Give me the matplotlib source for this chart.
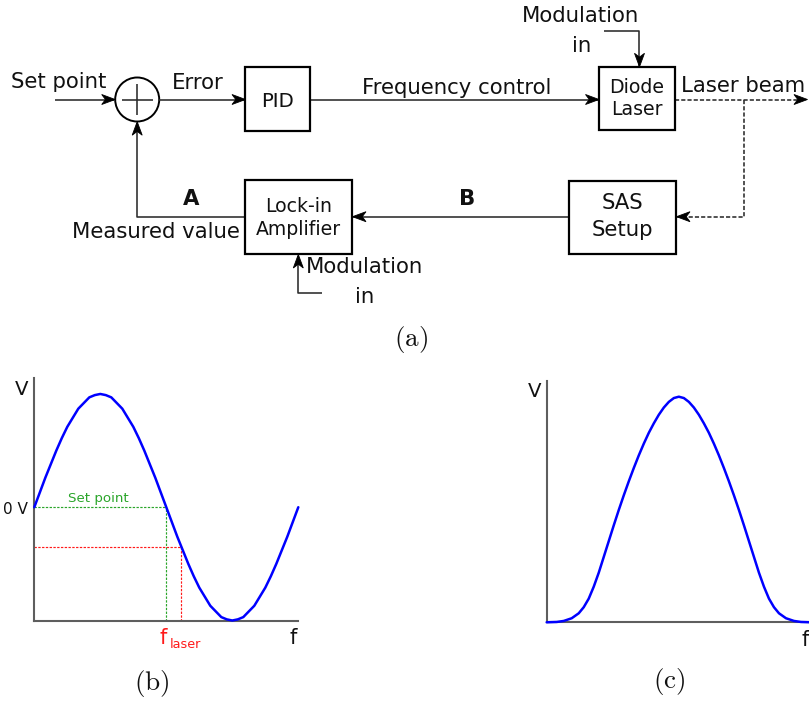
import matplotlib
matplotlib.use("Agg")
import matplotlib.pyplot as plt
from matplotlib.patches import Rectangle, Circle, Polygon

plt.rcParams["font.family"] = ["DejaVu Sans"]
plt.rcParams["mathtext.fontset"] = "cm"

W, H, DPI = 809, 702, 100

# ---------------- data ----------------
# (b) lock-in error signal versus laser detuning (arbitrary units)
detuning_b = list(range(49))
error_signal = [0.00, 0.13, 0.26, 0.38, 0.50, 0.61, 0.71, 0.79, 0.87, 0.92,
                0.97, 0.99, 1.00, 0.99, 0.97, 0.92, 0.87, 0.79, 0.71, 0.61,
                0.50, 0.38, 0.26, 0.13, 0.00, -0.13, -0.26, -0.38, -0.50,
                -0.61, -0.71, -0.79, -0.87, -0.92, -0.97, -0.99, -1.00,
                -0.99, -0.97, -0.92, -0.87, -0.79, -0.71, -0.61, -0.50,
                -0.38, -0.26, -0.13, 0.00]
setpoint_level = 0.0
measured_level = -0.35
f_setpoint = 24.0
f_laser = 26.7

# (c) saturated-absorption line profile versus detuning (arbitrary units)
detuning_c = [0, 10, 17, 25, 32, 37, 42, 47, 52, 57, 62, 67, 72, 77, 82, 87,
              92, 97, 102, 107, 112, 117, 122, 127, 132, 137, 142, 147, 152,
              157, 162, 167, 172, 177, 182, 187, 192, 197, 202, 207, 212,
              217, 222, 227, 232, 239, 247, 254, 264]
sas_signal = [0.0, 0.0015, 0.006, 0.018, 0.04, 0.067, 0.105, 0.158, 0.22,
              0.29, 0.36, 0.43, 0.498, 0.563, 0.625, 0.684, 0.74, 0.792,
              0.84, 0.882, 0.92, 0.952, 0.977, 0.994, 1.0, 0.994, 0.977,
              0.952, 0.92, 0.882, 0.84, 0.792, 0.74, 0.684, 0.625, 0.563,
              0.498, 0.43, 0.36, 0.29, 0.22, 0.158, 0.105, 0.067, 0.04,
              0.018, 0.006, 0.0015, 0.0]

# ---------------- styles ----------------
LINE = "#2b2b2b"
TXT = "#111111"
BLUE = "#0000ff"
GREEN = "#2aa52a"
RED = "#ff1a1a"
AXIS = "#5e5e5e"
BIG = 15.3
SMALL = 13.6

fig = plt.figure(figsize=(W / DPI, H / DPI), dpi=DPI)
bg = fig.add_axes([0, 0, 1, 1])
bg.set_xlim(0, W)
bg.set_ylim(H, 0)
bg.axis("off")


def seg(pts, dashed=False):
    xs, ys = zip(*pts)
    bg.plot(xs, ys, color=LINE, lw=1.15,
            ls=(0, (2.6, 1.3)) if dashed else "-", solid_capstyle="butt",
            dash_capstyle="butt")


def head(x, y, d, L=13.5, w=10.0):
    dx, dy = d
    px, py = -dy, dx
    bx, by = x - dx * L, y - dy * L
    nx, ny = x - dx * L * 0.72, y - dy * L * 0.72
    pts = [(x, y), (bx + px * w / 2, by + py * w / 2), (nx, ny),
           (bx - px * w / 2, by - py * w / 2)]
    bg.add_patch(Polygon(pts, closed=True, fc="black", ec="black", lw=0.6,
                         zorder=5))


def box(x0, y0, x1, y1):
    bg.add_patch(Rectangle((x0, y0), x1 - x0, y1 - y0, fill=False,
                           ec="black", lw=1.6, zorder=4))


def label(x, y, s, size=BIG, ha="center", **kw):
    kw.setdefault("color", TXT)
    bg.text(x, y, s, fontsize=size, ha=ha, va="baseline", **kw)


# ---------------- block diagram (a) ----------------
# summing junction
bg.add_patch(Circle((137.2, 99.5), 22, fill=False, ec="black", lw=1.4))
seg([(121.7, 99.5), (152.7, 99.5)])
seg([(137.2, 84.0), (137.2, 115.0)])

# set point input
seg([(55, 99.5), (114.5, 99.5)])
head(115.2, 99.5, (1, 0))
label(11, 88, "Set point", ha="left")

# error -> PID
seg([(159.2, 99.5), (244.5, 99.5)])
head(245.5, 99.5, (1, 0))
label(172, 89, "Error", ha="left")
box(245.5, 66.5, 310.5, 130.5)
label(278, 106.7, "PID", size=14.2)

# PID -> diode laser
seg([(310.5, 99.5), (598, 99.5)])
head(599, 99.5, (1, 0))
label(362, 93.5, "Frequency control", ha="left")
box(599, 67, 675, 130)
label(637, 92.7, "Diode", size=SMALL)
label(637, 115.2, "Laser", size=SMALL)

# modulation into the laser
seg([(604, 31), (639.5, 31), (639.5, 66)])
head(639.5, 66.8, (0, 1))
label(581, 21.7, "Modulation")
label(581.5, 51.7, "in")

# laser beam out and pick-off to SAS
seg([(675, 99.5), (806, 99.5)], dashed=True)
head(807.5, 99.5, (1, 0))
label(681.5, 91.7, "Laser beam", ha="left")
seg([(744.3, 99.5), (744.3, 216.7), (677.5, 216.7)], dashed=True)
head(676.5, 216.7, (-1, 0))

# SAS setup -> lock-in
box(569, 181, 676, 254)
label(622.5, 209.3, "SAS")
label(622.5, 236, "Setup")
seg([(569, 216.7), (353.5, 216.7)])
head(352.5, 216.7, (-1, 0))
label(467.3, 205, "B", weight="bold")

# lock-in amplifier
box(245, 180, 352, 254)
label(298.5, 212.3, "Lock-in", size=SMALL)
label(298.5, 235.3, "Amplifier", size=SMALL)
seg([(322.3, 293.3), (298.3, 293.3), (298.3, 255.5)])
head(298.3, 254.5, (0, -1))
label(365, 273.3, "Modulation")
label(365, 302.7, "in")

# measured value back to the junction
seg([(245, 216.7), (137.2, 216.7), (137.2, 122.8)])
head(137.2, 121.7, (0, -1))
label(190.7, 205, "A", weight="bold")
label(155.8, 238.3, "Measured value")

label(411, 346, r"$\mathrm{(a)}$", size=19.5)


# ---------------- plots (b) and (c) ----------------
def px_axes(left, right, bottom, top):
    ax = fig.add_axes([left / W, 1 - bottom / H, (right - left) / W,
                       (bottom - top) / H])
    ax.patch.set_alpha(0)
    for s in ("top", "right"):
        ax.spines[s].set_visible(False)
    for s in ("left", "bottom"):
        ax.spines[s].set_color(AXIS)
        ax.spines[s].set_linewidth(1.5)
    ax.set_xticks([])
    ax.set_yticks([])
    return ax


axb = px_axes(34.3, 298.3, 620.5, 378)
axb.set_xlim(0, 48)
axb.set_ylim(-1, 1.141)
dot = (0, (2.0, 1.2))
axb.plot([0, f_setpoint], [setpoint_level, setpoint_level], color=GREEN,
         lw=0.85, ls=dot)
axb.plot([f_setpoint, f_setpoint], [-1, setpoint_level], color=GREEN,
         lw=0.85, ls=dot)
axb.plot([0, f_laser], [measured_level, measured_level], color=RED,
         lw=0.85, ls=dot)
axb.plot([f_laser, f_laser], [-1, measured_level], color=RED, lw=0.85,
         ls=dot)
axb.plot(detuning_b, error_signal, color=BLUE, lw=1.8, clip_on=False,
         solid_joinstyle="round", solid_capstyle="round", zorder=3)

label(21.5, 395, "V", size=14.2)
label(2.7, 514, "0 V", size=11, ha="left")
label(98.3, 501.7, "Set point", size=9.6, color=GREEN)
label(293, 643.5, "f", size=15)
label(159.5, 643.5, "f", size=15, ha="left", color=RED)
label(169.5, 648.3, "laser", size=9.2, ha="left", color=RED)
label(151.7, 690, r"$\mathrm{(b)}$", size=19.5)

axc = px_axes(546.7, 811, 622.3, 381)
axc.set_xlim(0, 264)
axc.set_ylim(0, 1.0696)
axc.plot(detuning_c, sas_signal, color=BLUE, lw=1.8, clip_on=False,
         solid_joinstyle="round", solid_capstyle="round", zorder=3)

label(535, 397.3, "V", size=14.2)
label(805, 646, "f", size=15)
label(669.5, 688, r"$\mathrm{(c)}$", size=19.5)

fig.savefig("out.png", dpi=DPI)
